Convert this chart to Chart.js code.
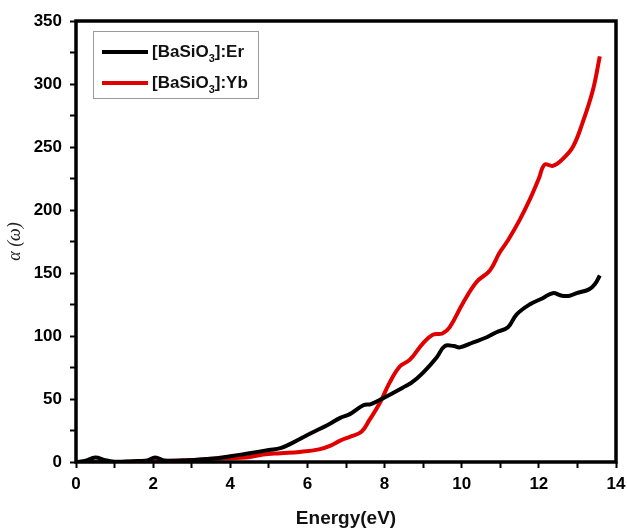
<!DOCTYPE html>
<html>
<head>
<meta charset="utf-8">
<script src="https://cdn.jsdelivr.net/npm/chart.js@4/dist/chart.umd.min.js"></script>
<style>
  html, body { margin: 0; padding: 0; background: #fff; }
  #chart { display: block; }
</style>
</head>
<body>
<canvas id="chart" width="627" height="528"></canvas>
<script>
// [BaSiO3]:Er
const erX = [0, 0.25, 0.5, 0.75, 1.0, 1.3, 1.6, 1.85, 2.05, 2.3, 2.6, 3.0, 3.5, 4.0, 4.5, 5.0, 5.3, 5.6, 6.1, 6.5, 6.85, 7.1, 7.45, 7.65, 8.05, 8.47, 8.7, 9.0, 9.35, 9.56, 9.8, 9.95, 10.3, 10.65, 10.9, 11.2, 11.42, 11.76, 12.1, 12.36, 12.6, 12.8, 12.98, 13.3, 13.45, 13.58];
const erY = [0, 1, 3.5, 1.5, 0.3, 0.3, 0.8, 1.2, 3.5, 1.2, 1, 1.5, 2.5, 4.5, 7, 9.5, 11, 15, 23, 29, 35, 38, 45, 46, 52, 59, 63, 71, 83, 92, 92, 91, 95, 99, 103, 107, 117, 125, 130, 134, 132, 132, 134, 137, 141, 148];

// [BaSiO3]:Yb
const ybX = [0, 0.5, 1, 1.5, 2, 2.5, 3, 3.5, 4, 4.4, 4.6, 4.85, 5.3, 5.8, 6.3, 6.6, 6.85, 7.1, 7.4, 7.6, 7.88, 8.13, 8.4, 8.65, 8.99, 9.25, 9.5, 9.69, 10.03, 10.39, 10.73, 10.98, 11.2, 11.5, 11.76, 12.0, 12.15, 12.36, 12.6, 12.88, 13.13, 13.4, 13.58];
const ybY = [0, 0, 0, 0.3, 0.5, 1, 1.5, 2.5, 3, 3.5, 4.5, 6, 7, 8, 10, 13, 17, 20, 24, 33, 47, 63, 76, 81, 94, 101, 102, 107, 126, 143, 152, 166, 176, 192, 208, 225, 236, 235, 240, 250, 269, 295, 322];

const seriesNames = ['[BaSiO\u2083]:Er', '[BaSiO\u2083]:Yb'];
const legendParts = [['[BaSiO', '3', ']:Er'], ['[BaSiO', '3', ']:Yb']];
const seriesColors = ['#000000', '#e00000'];

const xTickLabels = [0, 2, 4, 6, 8, 10, 12, 14];
const yTickLabels = [0, 50, 100, 150, 200, 250, 300, 350];

function pts(xs, ys) {
  return xs.map((x, i) => ({ x: x, y: ys[i] }));
}

const frame = {
  id: 'frame',
  afterDatasetsDraw(chart) {
    const a = chart.chartArea;
    const ctx = chart.ctx;
    ctx.save();
    ctx.strokeStyle = '#000';
    ctx.lineWidth = 3.5;
    ctx.strokeRect(a.left, a.top, a.right - a.left, a.bottom - a.top);
    ctx.restore();
  }
};

const boxLegend = {
  id: 'boxLegend',
  afterDraw(chart) {
    const ctx = chart.ctx;
    const a = chart.chartArea;
    const bx = a.left + 17, by = a.top + 10, bw = 165, bh = 67;
    ctx.save();
    ctx.strokeStyle = '#999';
    ctx.lineWidth = 1;
    ctx.strokeRect(bx + 0.5, by + 0.5, bw, bh);
    chart.data.datasets.forEach((ds, i) => {
      const y = by + 21 + i * 31;
      ctx.strokeStyle = ds.borderColor;
      ctx.lineWidth = 4;
      ctx.beginPath();
      ctx.moveTo(bx + 9, y);
      ctx.lineTo(bx + 55, y);
      ctx.stroke();
      const p = legendParts[i];
      ctx.fillStyle = '#111';
      ctx.textBaseline = 'middle';
      ctx.font = 'bold 17px "Liberation Sans", Arial, sans-serif';
      let x = bx + 59;
      ctx.fillText(p[0], x, y);
      x += ctx.measureText(p[0]).width;
      ctx.font = 'bold 11px "Liberation Sans", Arial, sans-serif';
      ctx.fillText(p[1], x, y + 7);
      x += ctx.measureText(p[1]).width;
      ctx.font = 'bold 17px "Liberation Sans", Arial, sans-serif';
      ctx.fillText(p[2], x, y);
    });
    ctx.restore();
  }
};

const tickFont = { family: '"Liberation Sans", Arial, sans-serif', size: 17, weight: 'bold' };

new Chart(document.getElementById('chart'), {
  type: 'line',
  data: {
    datasets: [
      {
        label: seriesNames[0],
        data: pts(erX, erY),
        borderColor: seriesColors[0],
        borderWidth: 4,
        pointRadius: 0,
        tension: 0.4,
        fill: false,
      },
      {
        label: seriesNames[1],
        data: pts(ybX, ybY),
        borderColor: seriesColors[1],
        borderWidth: 4,
        pointRadius: 0,
        tension: 0.4,
        fill: false,
      },
    ],
  },
  options: {
    responsive: false,
    animation: false,
    layout: { padding: { left: 0, right: 11, top: 21, bottom: 0 } },
    plugins: {
      legend: { display: false },
      tooltip: { enabled: false },
    },
    scales: {
      x: {
        type: 'linear',
        min: 0,
        max: 14,
        afterFit: (s) => { s.height = 66; s.paddingRight = 0; s.paddingLeft = 0; },
        border: { display: false },
        grid: { drawOnChartArea: false, drawTicks: true, tickLength: 6, tickWidth: 2, tickColor: '#000' },
        ticks: {
          stepSize: 1,
          padding: 6,
          color: '#000',
          font: tickFont,
          maxRotation: 0,
          autoSkip: false,
          callback: (v) => (xTickLabels.includes(v) ? String(v) : ''),
        },
        title: {
          display: true,
          text: 'Energy(eV)',
          color: '#111',
          font: { family: '"Liberation Sans", Arial, sans-serif', size: 19, weight: 'bold', lineHeight: 1 },
          padding: { top: 0, bottom: 0 },
        },
      },
      y: {
        min: 0,
        max: 350,
        afterFit: (s) => { s.width = 76; },
        border: { display: false },
        grid: { drawOnChartArea: false, drawTicks: true, tickLength: 6, tickWidth: 2, tickColor: '#000' },
        ticks: {
          stepSize: 25,
          padding: 8,
          color: '#000',
          font: tickFont,
          autoSkip: false,
          callback: (v) => (yTickLabels.includes(v) ? String(v) : ''),
        },
        title: {
          display: true,
          text: '\u03b1 (\u03c9)',
          color: '#222',
          font: { family: '"Liberation Serif", "DejaVu Serif", serif', size: 18, style: 'italic', weight: 'normal' },
          padding: { top: 4, bottom: 4 },
        },
      },
    },
  },
  plugins: [frame, boxLegend],
});
</script>
</body>
</html>
